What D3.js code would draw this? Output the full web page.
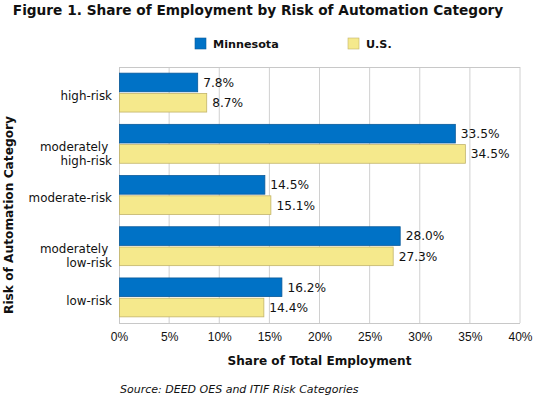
<!DOCTYPE html>
<html>
<head>
<meta charset="utf-8">
<script src="https://cdn.jsdelivr.net/npm/d3@7"></script>
<style>
  body { margin: 0; background: #fff; }
  svg { font-family: "DejaVu Sans", Verdana, sans-serif; }
</style>
</head>
<body>
<svg id="chart"></svg>
<script>
// Data
const categories = ['high-risk', 'moderately high-risk', 'moderate-risk', 'moderately low-risk', 'low-risk'];
const categoryLines = [['high-risk'], ['moderately\u00a0', 'high-risk'], ['moderate-risk'], ['moderately\u00a0', 'low-risk'], ['low-risk']];
const seriesNames = ['Minnesota', 'U.S.'];
const minnesota = [7.8, 33.5, 14.5, 28.0, 16.2];
const us = [8.7, 34.5, 15.1, 27.3, 14.4];
const xTicks = [0, 5, 10, 15, 20, 25, 30, 35, 40];

const colors = { 'Minnesota': '#0072C6', 'U.S.': '#F5E98C' };
const strokes = { 'Minnesota': '#0a5a9a', 'U.S.': '#c2b46a' };

const W = 540, H = 398;
const margin = {top: 67, right: 20, bottom: 75, left: 119};
const width = W - margin.left - margin.right;
const height = H - margin.top - margin.bottom;

const svg = d3.select('#chart').attr('width', W).attr('height', H);

// Title
svg.append('text')
    .attr('x', 258).attr('y', 15)
    .attr('text-anchor', 'middle')
    .attr('font-weight', 'bold')
    .attr('font-size', 13.7)
    .attr('fill', '#111')
    .text('Figure 1. Share of Employment by Risk of Automation Category');

// Legend
const legendX = [195, 348];
seriesNames.forEach((s, i) => {
    svg.append('rect')
        .attr('x', legendX[i]).attr('y', 38)
        .attr('width', 11).attr('height', 11)
        .attr('fill', colors[s]).attr('stroke', strokes[s]).attr('stroke-width', 0.6);
    svg.append('text')
        .attr('x', legendX[i] + 18).attr('y', 48)
        .attr('font-weight', 'bold').attr('font-size', 11.2)
        .attr('fill', '#111')
        .text(s);
});

const g = svg.append('g').attr('transform', `translate(${margin.left},${margin.top})`);

// Scales
const x = d3.scaleLinear().domain([0, 40]).range([0, width]);
const y = d3.scaleBand().domain(categories).range([0, height]).paddingInner(0.24).paddingOuter(0.12);
const ySub = d3.scaleBand().domain(seriesNames).range([0, y.bandwidth()]).paddingInner(0.08);

// Gridlines
g.append('g')
    .selectAll('line')
    .data(xTicks.slice(1))
    .enter().append('line')
    .attr('x1', d => x(d)).attr('x2', d => x(d))
    .attr('y1', 0).attr('y2', height)
    .attr('stroke', '#d0d0d0');

// Frame top and axis lines
g.append('line').attr('x1', 0).attr('x2', width).attr('y1', 0.5).attr('y2', 0.5).attr('stroke', '#c8c8c8');
g.append('line').attr('x1', 0).attr('x2', width).attr('y1', height + 0.5).attr('y2', height + 0.5).attr('stroke', '#c8c8c8');
g.append('line').attr('x1', 0.5).attr('x2', 0.5).attr('y1', 0).attr('y2', height).attr('stroke', '#c8c8c8');

// Bars
const rows = categories.map((c, i) => ({cat: c, values: [
    {s: 'Minnesota', v: minnesota[i]},
    {s: 'U.S.', v: us[i]}
]}));

const groups = g.selectAll('.grp')
    .data(rows)
    .enter().append('g')
    .attr('class', 'grp')
    .attr('transform', d => `translate(0,${y(d.cat)})`);

groups.selectAll('rect')
    .data(d => d.values)
    .enter().append('rect')
    .attr('x', x(0) + 0.5)
    .attr('y', d => ySub(d.s))
    .attr('width', d => x(d.v) - x(0))
    .attr('height', ySub.bandwidth())
    .attr('fill', d => colors[d.s])
    .attr('stroke', d => strokes[d.s])
    .attr('stroke-width', 0.8);

groups.selectAll('.val')
    .data(d => d.values)
    .enter().append('text')
    .attr('class', 'val')
    .attr('x', d => x(d.v) + 6)
    .attr('y', d => ySub(d.s) + ySub.bandwidth() / 2)
    .attr('dy', '0.36em')
    .attr('font-size', 12.2)
    .attr('fill', '#111')
    .text(d => d.v.toFixed(1) + '%');

// X axis labels
const xAxis = d3.axisBottom(x).tickValues(xTicks).tickSize(0).tickPadding(9).tickFormat(d => d + '%');
const xg = g.append('g').attr('transform', `translate(0,${height})`).call(xAxis);
xg.select('.domain').remove();
xg.selectAll('text').attr('font-size', 12).attr('fill', '#111').attr('font-family', 'inherit');

// Category labels
categories.forEach((c, i) => {
    const lines = categoryLines[i];
    const cy = y(c) + y.bandwidth() / 2 + 3;
    const t = g.append('text')
        .attr('text-anchor', 'end')
        .attr('font-size', 11.9)
        .attr('fill', '#111');
    lines.forEach((ln, j) => {
        t.append('tspan')
            .attr('x', -7)
            .attr('y', cy + j * 13.5)
            .attr('dy', '0.36em')
            .text(ln);
    });
});

// Axis titles
svg.append('text')
    .attr('x', margin.left + width / 2).attr('y', 365)
    .attr('text-anchor', 'middle')
    .attr('font-weight', 'bold').attr('font-size', 12.1)
    .attr('fill', '#111')
    .text('Share of Total Employment');

svg.append('text')
    .attr('transform', 'translate(13,215) rotate(-90)')
    .attr('text-anchor', 'middle')
    .attr('font-weight', 'bold').attr('font-size', 12.2)
    .attr('fill', '#111')
    .text('Risk of Automation Category');

// Source
svg.append('text')
    .attr('x', 120).attr('y', 393)
    .attr('font-style', 'italic').attr('font-size', 11)
    .attr('fill', '#111')
    .text('Source: DEED OES and ITIF Risk Categories');
</script>
</body>
</html>
